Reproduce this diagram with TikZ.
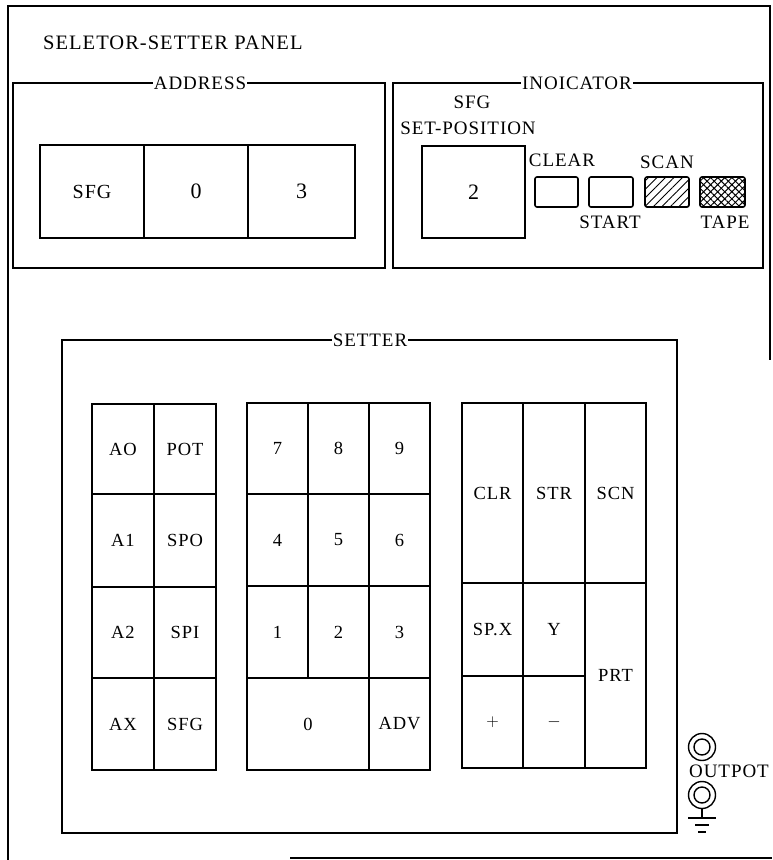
\documentclass[tikz,border=0pt]{standalone}
\usepackage{fontspec}
\setmainfont[LetterSpace=5]{Liberation Serif}
\usetikzlibrary{patterns.meta}
\tikzset{
  frame/.style={draw, line width=1.1pt},
  ftitle/.style={fill=white, inner sep=1pt, font=\fontsize{19}{21}\selectfont},
  keybox/.style={draw, line width=1.8pt, inner sep=0pt, outer sep=0pt, font=\fontsize{18.5}{20}\selectfont},
  lamp/.style={draw, line width=1.6pt, rounded corners=2pt, inner sep=0pt},
  lbl/.style={inner sep=0pt, font=\fontsize{19}{21}\selectfont},
  jack/.style={draw, line width=1.4pt, circle, inner sep=0pt},
}
\newcommand\kcell[6]{\node[keybox, minimum width={#4-#2}, minimum height={#5-#3}] (#1) at ({(#2+#4)/2},{(#3+#5)/2}) {#6};}
\begin{document}
\begin{tikzpicture}[x=1pt,y=-1pt]
\useasboundingbox (0,0) rectangle (772,860);
% outer panel
\draw[frame] (8,860) -- (8,6) -- (770,6) -- (770,360);
\draw[frame, line width=1.4pt] (290,858) -- (772,858);
\node[lbl, anchor=west, font=\fontsize{20.5}{22}\selectfont] (title) at (43,43) {SELETOR-SETTER PANEL};
% address
\draw[frame] (13,83) rectangle (385,268);
\node[ftitle] (addrT) at (200,83) {ADDRESS};
\kcell{a1}{40}{145}{144}{238}{\fontsize{20}{22}\selectfont SFG}
\kcell{a2}{144}{145}{248}{238}{\fontsize{22}{24}\selectfont 0}
\kcell{a3}{248}{145}{355}{238}{\fontsize{22}{24}\selectfont 3}
% indicator
\draw[frame] (393,83) rectangle (763,268);
\node[ftitle] (indT) at (577,83) {INOICATOR};
\node[lbl] (sfgl) at (472,102) {SFG};
\node[lbl] (setpos) at (468,128) {SET-POSITION};
\kcell{pos}{422}{146}{525}{238}{\fontsize{22}{24}\selectfont 2}
\node[lamp, minimum width=43, minimum height=30] (clr) at (556.5,192) {};
\node[lamp, minimum width=44, minimum height=30] (start) at (611,192) {};
\node[lamp, minimum width=44, minimum height=30, pattern={Lines[angle=45,distance=6pt,line width=0.9pt]}] (scan) at (667,192) {};
\node[lamp, minimum width=45, minimum height=30, pattern={Hatch[angle=45,distance=5pt,line width=1pt]}] (tape) at (722.5,192) {};
\node[lbl] (clrL) at (562,160) {CLEAR};
\node[lbl] (scanL) at (667,162) {SCAN};
\node[lbl] (startL) at (610,222) {START};
\node[lbl] (tapeL) at (725,222) {TAPE};
% setter
\draw[frame] (62,340) rectangle (677,833);
\node[ftitle] (setT) at (370,340) {SETTER};
% left keypad
\kcell{ao}{92}{404}{154}{494}{AO}
\kcell{pot}{154}{404}{216}{494}{POT}
\kcell{ka1}{92}{494}{154}{587}{A1}
\kcell{spo}{154}{494}{216}{587}{SPO}
\kcell{ka2}{92}{587}{154}{678}{A2}
\kcell{spi}{154}{587}{216}{678}{SPI}
\kcell{ax}{92}{678}{154}{770}{AX}
\kcell{sfg}{154}{678}{216}{770}{SFG}
% middle keypad
\kcell{k7}{247}{403}{308}{494}{7}
\kcell{k8}{308}{403}{369}{494}{8}
\kcell{k9}{369}{403}{430}{494}{9}
\kcell{k4}{247}{494}{308}{586}{4}
\kcell{k5}{308}{494}{369}{586}{5}
\kcell{k6}{369}{494}{430}{586}{6}
\kcell{k1}{247}{586}{308}{678}{1}
\kcell{k2}{308}{586}{369}{678}{2}
\kcell{k3}{369}{586}{430}{678}{3}
\kcell{k0}{247}{678}{369}{770}{0}
\kcell{adv}{369}{678}{430}{770}{ADV}
% right keypad
\kcell{kclr}{462}{403}{523}{583}{CLR}
\kcell{kstr}{523}{403}{585}{583}{STR}
\kcell{kscn}{585}{403}{646}{583}{SCN}
\kcell{spx}{462}{583}{523}{676}{SP.X}
\kcell{ky}{523}{583}{585}{676}{Y}
\kcell{plus}{462}{676}{523}{768}{$+$}
\kcell{minus}{523}{676}{585}{768}{$-$}
\kcell{prt}{585}{583}{646}{768}{PRT}
% output jacks
\node[jack, minimum size=27] (j1) at (702,747) {};
\node[jack, minimum size=16] (j1i) at (702,747) {};
\node[jack, minimum size=27] (j2) at (702,795) {};
\node[jack, minimum size=16] (j2i) at (702,795) {};
\node[lbl] (outL) at (729,771) {OUTPOT};
\coordinate (g0) at (702,818);
\draw[line width=1.4pt] (j2.south) -- (g0);
\draw[line width=1.4pt] (688,818) -- (716,818);
\draw[line width=1.4pt] (695,825) -- (709,825);
\draw[line width=2pt] (698,832) -- (706,832);
\end{tikzpicture}
\end{document}
